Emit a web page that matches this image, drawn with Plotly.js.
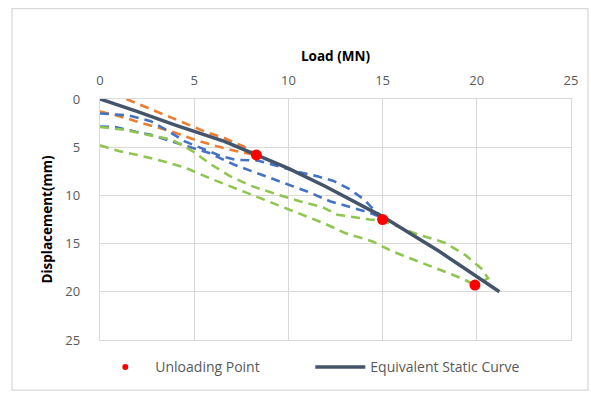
<!DOCTYPE html>
<html>
<head>
<meta charset="utf-8">
<script src="https://cdn.plot.ly/plotly-3.0.1.min.js"></script>
<style>html,body{margin:0;padding:0;background:#fff;}#chart{width:591px;height:394px;}</style>
</head>
<body>
<div id="chart"></div>
<script>
// Equivalent static curve
var staticLoad = [0, 2, 4, 6.6, 8.3, 10, 12, 15, 18, 20, 21.2];
var staticDisp = [0, 1.3, 2.7, 4.4, 5.8, 7.2, 9.1, 12.2, 15.8, 18.4, 20.0];

// Unloading points
var unloadLoad = [8.3, 15.0, 19.9];
var unloadDisp = [5.8, 12.5, 19.3];

// Cycle 1 (orange)
var orangeALoad = [1.4, 2.4, 3.5, 4.5, 5.6, 6.6, 7.6, 8.3];
var orangeADisp = [0, 0.8, 1.65, 2.5, 3.4, 4.05, 4.9, 5.8];
var orangeBLoad = [0, 0.8, 1.9, 2.9, 4.0, 5.0, 6.0, 7.2, 8.3];
var orangeBDisp = [1.3, 1.65, 2.3, 2.85, 3.5, 4.2, 4.8, 5.4, 5.8];

// Cycle 2 (blue)
var blueALoad = [0, 1.5, 2.7, 3.6, 4.5, 5.5, 6.4, 7.2, 8.4, 9.5, 10.6, 11.5, 12.4, 13.2, 14.0, 14.5, 15.0];
var blueADisp = [1.5, 1.7, 2.3, 3.3, 4.4, 5.2, 5.9, 6.3, 6.4, 7.0, 7.6, 8.0, 8.5, 9.3, 10.4, 11.4, 12.3];
var blueBLoad = [0, 0.8, 1.9, 2.7, 3.8, 4.8, 5.8, 7.1, 8.5, 9.7, 11.0, 12.2, 13.6, 14.3, 15.0];
var blueBDisp = [2.85, 2.9, 3.4, 3.7, 4.4, 5.0, 5.6, 6.8, 7.8, 8.7, 9.6, 10.6, 11.4, 11.8, 12.3];

// Cycle 3 (green)
var greenALoad = [0, 1.3, 2.5, 3.8, 4.9, 5.9, 6.9, 8.0, 9.4, 10.6, 11.8, 12.6, 14.3, 15.0, 16.8, 18.3, 19.4, 20.3, 20.6, 19.9];
var greenADisp = [2.9, 3.2, 3.7, 4.2, 5.4, 6.8, 8.0, 9.0, 9.9, 10.6, 11.2, 12.0, 12.5, 12.6, 14.0, 14.9, 16.2, 17.7, 18.6, 19.3];
var greenBLoad = [0, 1.0, 2.2, 3.45, 4.5, 5.8, 7.1, 8.4, 9.5, 10.7, 11.9, 13.0, 14.5, 15.5, 16.8, 18.0, 19.2, 19.9];
var greenBDisp = [4.8, 5.4, 5.9, 6.5, 7.1, 8.2, 9.2, 10.2, 11.0, 12.0, 12.9, 13.9, 14.8, 15.8, 16.8, 17.7, 18.6, 19.3];

var xTicks = [0, 5, 10, 15, 20, 25];
var yTicks = [0, 5, 10, 15, 20, 25];

var ORANGE = '#ED7D31', BLUE = '#4472C4', GREEN = '#8FC550', NAVY = '#44546A';
var DASH = '9px,6px';

function dashed(x, y, c) {
  return {x: x, y: y, mode: 'lines', type: 'scatter', showlegend: false, hoverinfo: 'skip',
          line: {color: c, width: 2.6, dash: DASH}};
}

var traces = [
  dashed(orangeALoad, orangeADisp, ORANGE),
  dashed(orangeBLoad, orangeBDisp, ORANGE),
  dashed(blueALoad, blueADisp, BLUE),
  dashed(blueBLoad, blueBDisp, BLUE),
  dashed(greenALoad, greenADisp, GREEN),
  dashed(greenBLoad, greenBDisp, GREEN),
  {x: staticLoad, y: staticDisp, mode: 'lines', type: 'scatter', name: 'Equivalent Static Curve',
   line: {color: NAVY, width: 3.5}, legendrank: 2},
  {x: unloadLoad, y: unloadDisp, mode: 'markers', type: 'scatter', name: 'Unloading Point',
   marker: {color: '#FF0000', size: 11}, showlegend: false},
  // legend entry for the unloading points (smaller swatch, as in the original)
  {x: [null], y: [null], mode: 'markers', type: 'scatter', name: 'Unloading Point',
   marker: {color: '#FF0000', size: 6}, legendrank: 1}
];

var FONT = 'Open Sans, sans-serif';
var layout = {
  width: 591, height: 394,
  margin: {l: 100, r: 20, t: 99, b: 52.5, pad: 0},
  paper_bgcolor: '#ffffff', plot_bgcolor: '#ffffff',
  font: {family: FONT, color: '#595959', size: 13},
  showlegend: true,
  legend: {orientation: 'h', x: -0.01, xanchor: 'left', y: -0.109, yanchor: 'middle',
           font: {family: FONT, size: 14, color: '#595959'}, itemwidth: 50,
           entrywidth: 150, entrywidthmode: 'pixels',
           traceorder: 'normal', bgcolor: 'rgba(0,0,0,0)'},
  xaxis: {side: 'top', range: [0, 25], tickvals: xTicks, ticktext: xTicks.map(String),
          showgrid: true, gridcolor: '#D9D9D9', gridwidth: 1.3, zeroline: false,
          showline: true, mirror: true, linecolor: '#D9D9D9', linewidth: 1.3,
          ticks: '', ticklabelstandoff: 8, fixedrange: true,
          tickfont: {family: FONT, size: 13, color: '#595959'},
          title: {text: '<b>Load (MN)</b>', standoff: 5, font: {family: FONT, size: 13.5, color: '#000000'}}},
  yaxis: {range: [25, 0], tickvals: yTicks, ticktext: yTicks.map(String),
          showgrid: true, gridcolor: '#D9D9D9', gridwidth: 1.3, zeroline: false,
          showline: true, mirror: true, linecolor: '#D9D9D9', linewidth: 1.3,
          ticks: '', ticklabelstandoff: 16, fixedrange: true,
          tickfont: {family: FONT, size: 13, color: '#595959'},
          title: {text: '<b>Displacement(mm)</b>', standoff: 9, font: {family: FONT, size: 13.5, color: '#000000'}}},
  shapes: [{type: 'rect', xref: 'paper', yref: 'paper',
            x0: -0.1868, x1: 1.036, y0: -0.208, y1: 1.375,
            line: {color: '#D9D9D9', width: 1.3}, fillcolor: 'rgba(0,0,0,0)', layer: 'below'}]
};

Plotly.newPlot('chart', traces, layout, {staticPlot: true, displayModeBar: false});
</script>
</body>
</html>
